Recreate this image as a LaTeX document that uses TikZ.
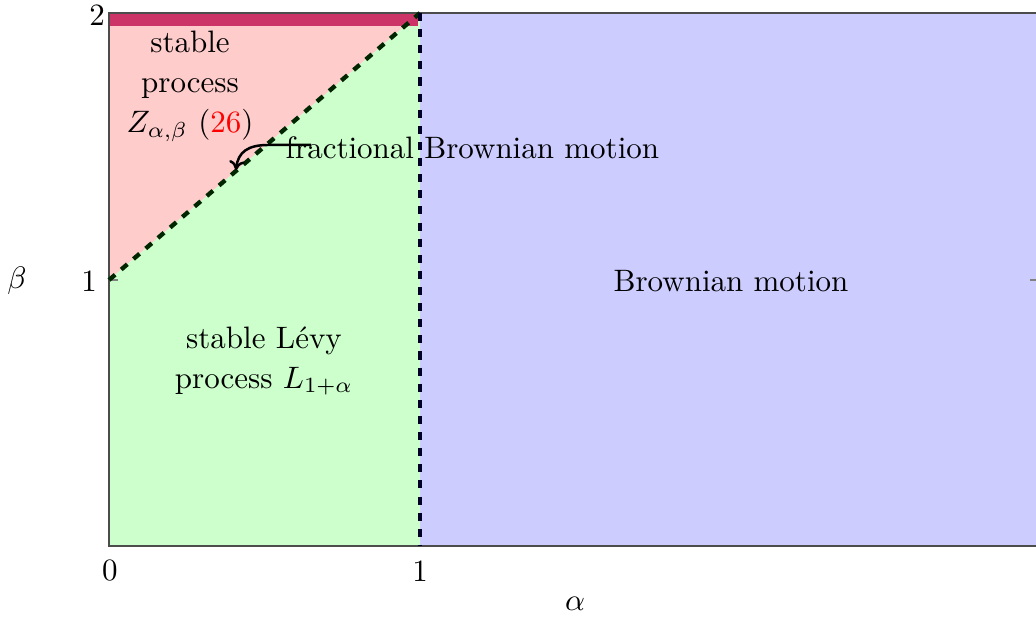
\documentclass[tikz,border=0pt]{standalone}
\usetikzlibrary{arrows.meta}
\definecolor{crim}{RGB}{204,51,102}
\begin{document}
\begin{tikzpicture}[x=0.3226pt,y=-0.3226pt,
  lbl/.style={inner sep=0pt,align=center},
  bound/.style={line width=1.4pt,dash pattern=on 2.6pt off 2.6pt}]
\useasboundingbox (0,0) rectangle (1036,619);
% regions
\fill[red!20] (109,13) -- (420,13) -- (109,280) -- cycle;
\fill[green!20] (109,280) -- (420,13) -- (420,546) -- (109,546) -- cycle;
\fill[blue!20] (420,13) rectangle (1036,546);
\fill[crim] (109,13) rectangle (418,26);
% axis
\draw[black!70,line width=0.6pt] (1036,13) -- (109,13) -- (109,546) -- (1036,546);
\draw[black!50,line width=0.4pt] (109,280) -- (118,280) (1030,280) -- (1036,280);
% boundaries
\draw[bound,black!85!green] (109,280) -- (420,13);
\draw[bound,black!85!blue] (420,13) -- (420,546);
% tick labels
\node[lbl] (t2) at (97,15) {2};
\node[lbl] (t1) at (89,281) {1};
\node[lbl] (bet) at (17,281) {$\beta$};
\node[lbl] (x0) at (110,571) {0};
\node[lbl] (x1) at (420,571) {1};
\node[lbl] (alp) at (575,604) {$\alpha$};
% region labels
\node[lbl] (stab) at (190,86) {stable\\[1pt]process\\[1pt]$Z_{\alpha,\beta}$ (\textcolor{red}{26})};
\node[lbl,anchor=west] (frac) at (285,148) {fractional Brownian motion};
\node[lbl] (bm) at (731,281) {Brownian motion};
\node[lbl] (levy) at (264,361) {stable L\'evy\\[1pt]process $L_{1+\alpha}$};
\coordinate (as) at (311,145);
\coordinate (ae) at (236,170);
\draw[line width=0.8pt,-{To[length=3pt,width=5pt]}] (as) -- (268,145) .. controls (248,145) and (238,152) .. (ae);
\end{tikzpicture}
\end{document}
